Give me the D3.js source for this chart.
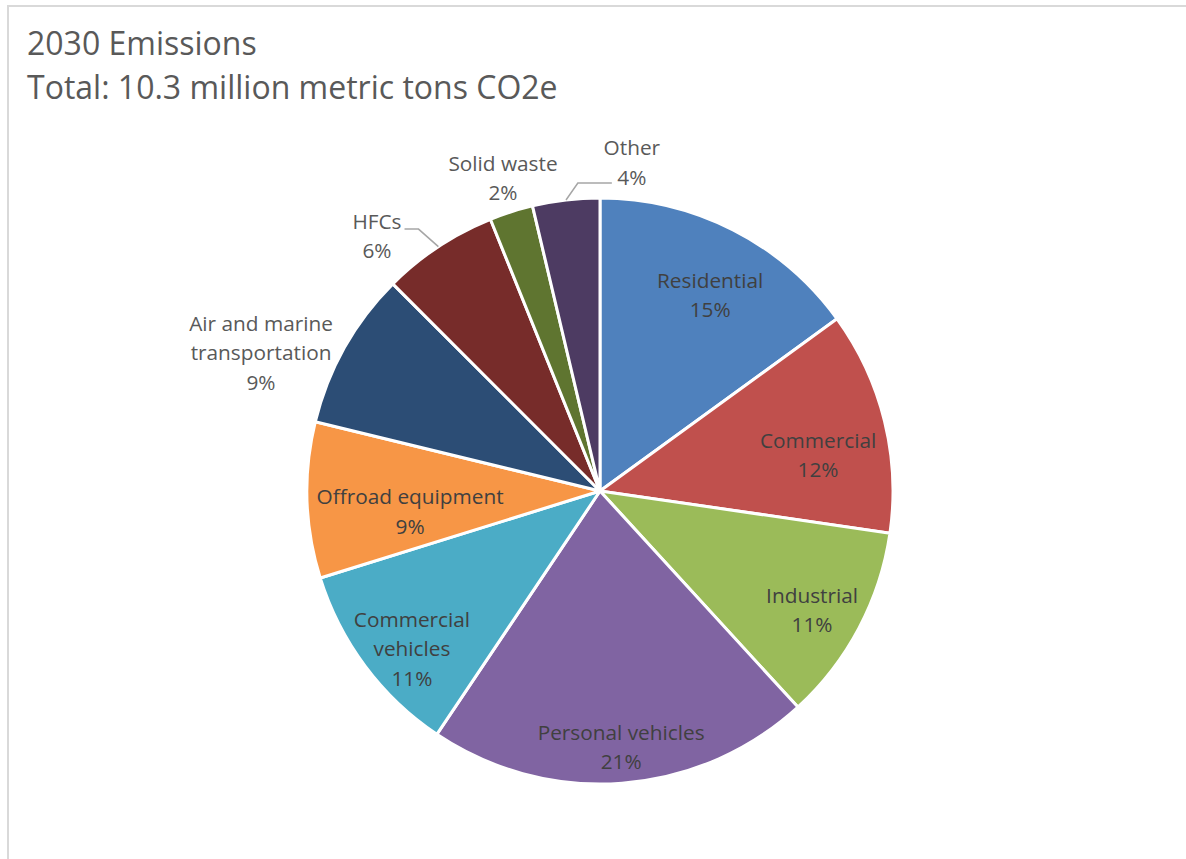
<!DOCTYPE html>
<html>
<head>
<meta charset="utf-8">
<script src="https://cdn.jsdelivr.net/npm/d3@7"></script>
<style>
  html, body { margin: 0; padding: 0; background: #fff; }
  svg { display: block; font-family: "Open Sans", "Noto Sans", sans-serif; }
</style>
</head>
<body>
<svg id="chart" width="1186" height="859"></svg>
<script>
// 2030 emissions by sector, share of total (%)
const categories = [
  "Residential", "Commercial", "Industrial", "Personal vehicles",
  "Commercial vehicles", "Offroad equipment", "Air and marine transportation",
  "HFCs", "Solid waste", "Other"
];
const shares = [15.0, 12.3, 10.9, 21.2, 10.8, 8.6, 8.7, 6.4, 2.4, 3.7];
const colors = [
  "#4F81BD", "#C0504D", "#9BBB59", "#8064A2", "#4BACC6",
  "#F79646", "#2C4D75", "#772C2A", "#5F7530", "#4D3B62"
];
// label text lines per slice (name split as wrapped in the chart)
const labelLines = [
  ["Residential"], ["Commercial"], ["Industrial"], ["Personal vehicles"],
  ["Commercial", "vehicles"], ["Offroad equipment"], ["Air and marine", "transportation"],
  ["HFCs"], ["Solid waste"], ["Other"]
];
const titleLines = ["2030 Emissions", "Total: 10.3 million metric tons CO2e"];

const W = 1186, H = 859;
const cx = 600, cy = 491, R = 293;

const svg = d3.select("#chart");

// chart-area frame (top and left edges)
svg.append("path")
  .attr("d", `M8,${H} L8,6 L${W},6`)
  .attr("fill", "none")
  .attr("stroke", "#d9d9d9")
  .attr("stroke-width", 2);

// title
svg.append("g").selectAll("text")
  .data(titleLines)
  .join("text")
  .attr("x", 27)
  .attr("y", (d, i) => 55 + i * 44)
  .attr("font-size", 32)
  .attr("fill", "#595959")
  .text(d => d);

const data = categories.map((c, i) => ({ name: c, value: shares[i], color: colors[i], lines: labelLines[i] }));
const total = d3.sum(shares);
const pct = d3.format(".0%");

const pie = d3.pie().value(d => d.value).sort(null);
const arcs = pie(data);
const arc = d3.arc().innerRadius(0).outerRadius(R);

const g = svg.append("g").attr("transform", `translate(${cx},${cy})`);

g.selectAll("path.slice")
  .data(arcs)
  .join("path")
  .attr("class", "slice")
  .attr("d", arc)
  .attr("fill", d => d.data.color)
  .attr("stroke", "#fff")
  .attr("stroke-width", 3)
  .attr("stroke-linejoin", "round");

// label placement: radius (fraction of R) and angular nudge (deg) from the slice mid-angle
const placement = {
  "Residential": { r: 0.766, da: 2.4 },
  "Commercial": { r: 0.754, da: 4.6 },
  "Industrial": { r: 0.83, da: 1.4 },
  "Personal vehicles": { r: 0.877, da: -0.4 },
  "Commercial vehicles": { r: 0.838, da: -3.3 },
  "Offroad equipment": { r: 0.652, da: -4.5 },
  "Air and marine transportation": { r: 1.249, da: -7.2 },
  "HFCs": { r: 1.156, da: -7.7 },
  "Solid waste": { r: 1.117, da: 0.4 },
  "Other": { r: 1.126, da: 12.2 }
};
// labels joined to their slice by a leader line
const leaders = {
  "HFCs": { y: -7, side: "right", elbow: 14 },
  "Other": { y: 20.5, side: "left", gap: 20, elbow: 34 }
};

const lineH = 29.5;
const labels = svg.append("g");

arcs.forEach(a => {
  const p = placement[a.data.name];
  const mid = (a.startAngle + a.endAngle) / 2 + p.da * Math.PI / 180;
  const lx = cx + Math.sin(mid) * R * p.r;
  const ly = cy - Math.cos(mid) * R * p.r;
  const lines = a.data.lines.concat([pct(a.data.value / total)]);
  const y0 = ly - (lines.length - 1) * lineH / 2;
  const t = labels.append("text")
    .attr("text-anchor", "middle")
    .attr("font-size", 20.8)
    .attr("fill", p.r > 1 ? "#595959" : "#404040");
  lines.forEach((s, i) => {
    t.append("tspan")
      .attr("x", lx)
      .attr("y", y0 + i * lineH)
      .attr("dy", "0.35em")
      .text(s);
  });

  const L = leaders[a.data.name];
  if (L) {
    const m0 = (a.startAngle + a.endAngle) / 2;
    const sx = cx + Math.sin(m0) * R, sy = cy - Math.cos(m0) * R;
    const box = t.node().getBBox();
    const hy = ly + L.y;
    let ex, bx;
    if (L.side === "right") { ex = box.x + box.width + 3; bx = ex + L.elbow; }
    else { ex = lx - L.gap; bx = ex - L.elbow; }
    labels.append("path")
      .attr("d", `M${sx},${sy} L${bx},${hy} L${ex},${hy}`)
      .attr("fill", "none")
      .attr("stroke", "#a6a6a6")
      .attr("stroke-width", 1.5);
  }
});
</script>
</body>
</html>
